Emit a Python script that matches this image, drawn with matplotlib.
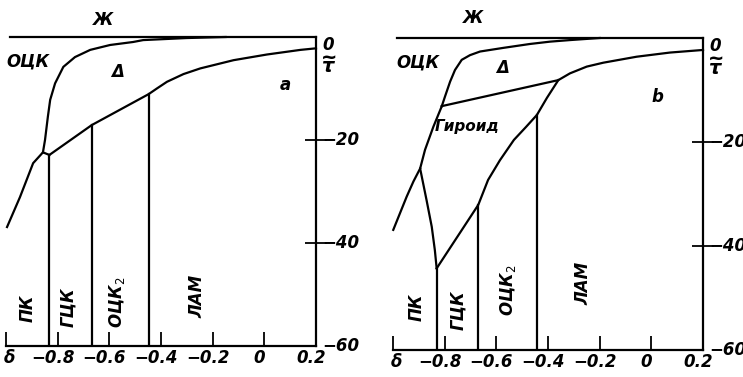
import numpy as np
import matplotlib
matplotlib.use('Agg')
import matplotlib.pyplot as plt
from matplotlib import transforms

# ── panel a : phase boundaries (delta, tau~) ────────────────────────────────
a_bcc_d   = [-0.857, -0.849, -0.838, -0.829, -0.810, -0.778, -0.733, -0.674, -0.597, -0.508, -0.469, -0.30, -0.15]
a_bcc_t   = [-22.4, -20.0, -15.5, -12.2, -9.0, -5.8, -3.9, -2.5, -1.55, -0.97, -0.6, -0.2, 0.0]
a_pc_d    = [-0.996, -0.946, -0.895, -0.857, -0.832]
a_pc_t    = [-36.9, -31.1, -24.5, -22.4, -22.9]
a_lam_d   = [-0.832, -0.668, -0.448, -0.416, -0.377, -0.313, -0.248, -0.119, 0.010, 0.140, 0.2]
a_lam_t   = [-22.9, -17.1, -11.1, -10.0, -8.7, -7.2, -6.1, -4.5, -3.4, -2.5, -2.2]
a_vert_d  = [-0.832, -0.668, -0.448]
a_vert_t  = [-22.9, -17.1, -11.1]

# ── panel b ─────────────────────────────────────────────────────────────────
b_bcc_d   = [-0.811, -0.799, -0.779, -0.760, -0.734, -0.702, -0.663, -0.573, -0.470, -0.392, -0.315, -0.2]
b_bcc_t   = [-13.1, -11.3, -8.4, -6.15, -4.2, -3.3, -2.6, -1.9, -1.15, -0.7, -0.4, 0.0]
b_dlam_d  = [-0.811, -0.360, -0.315, -0.250, -0.186, -0.057, 0.072, 0.2]
b_dlam_t  = [-13.1, -8.1, -6.8, -5.5, -4.75, -3.6, -2.8, -2.3]
b_gyr_d   = [-0.831, -0.670, -0.632, -0.586, -0.532, -0.485, -0.443, -0.404, -0.360]
b_gyr_t   = [-44.3, -32.1, -27.3, -23.5, -19.6, -17.1, -14.8, -11.5, -8.1]
b_pcg_d   = [-0.831, -0.838, -0.850, -0.870, -0.895, -0.876, -0.844, -0.811]
b_pcg_t   = [-44.3, -40.8, -36.3, -31.2, -25.1, -21.5, -17.1, -13.1]
b_pc_d    = [-0.999, -0.973, -0.947, -0.921, -0.895]
b_pc_t    = [-36.9, -33.7, -30.5, -27.6, -25.1]
b_vert_d  = [-0.831, -0.670, -0.443]
b_vert_t  = [-44.3, -32.1, -14.8]

x_ticks   = [-1.0, -0.8, -0.6, -0.4, -0.2, 0.0]
x_labels  = ['−0.8', '−0.6', '−0.4', '−0.2', '0', '0.2']
x_lab_pos = [-0.8, -0.6, -0.4, -0.2, 0.0, 0.2]
y_ticks   = [-20, -40]
y_labels  = ['−20', '−40', '−60']
y_lab_pos = [-20, -40, -60]

FONT = dict(family=['Liberation Sans Narrow', 'DejaVu Sans'], style='italic',
            weight='bold', color='black')
LW = 1.6

fig = plt.figure(figsize=(7.43, 3.77), dpi=100)
ax_a = fig.add_axes([6/743, 1-346/377, 310/743, 309/377])
ax_b = fig.add_axes([393/743, 1-350/377, 310/743, 312/377])


def frame(ax):
    ax.set_xlim(-1.0, 0.2)
    ax.set_ylim(-60, 0)
    ax.patch.set_alpha(0)
    for s in ['top', 'left']:
        ax.spines[s].set_visible(False)
    for s in ['bottom', 'right']:
        ax.spines[s].set_linewidth(LW)
    ax.plot([-0.985, 0.2], [0, 0], color='k', lw=LW, clip_on=False)
    ax.xaxis.set_ticks_position('bottom')
    ax.yaxis.set_ticks_position('right')
    ax.set_xticks(x_ticks)
    ax.set_xticklabels([])
    ax.set_yticks(y_ticks)
    ax.set_yticklabels([])
    ax.tick_params(axis='x', direction='in', length=10, width=1.3)
    ax.tick_params(axis='y', direction='inout', length=16, width=1.3)
    # tick labels as text
    off = transforms.offset_copy(ax.transData, fig=fig, x=-5, y=-12, units='dots')
    for xv, lab in zip(x_lab_pos, x_labels):
        ax.text(xv, -60, lab, transform=off, ha='center', va='center', fontsize=12, **FONT)
    offd = transforms.offset_copy(ax.transData, fig=fig, x=3, y=-12, units='dots')
    ax.text(-1.0, -60, 'δ', transform=offd, ha='center', va='center', fontsize=12, **FONT)
    offy = transforms.offset_copy(ax.transData, fig=fig, x=6, y=0, units='dots')
    for yv, lab in zip(y_lab_pos, y_labels):
        ax.text(0.2, yv, lab, transform=offy, ha='left', va='center', fontsize=12, **FONT)
    off0 = transforms.offset_copy(ax.transData, fig=fig, x=6, y=-8, units='dots')
    ax.text(0.2, 0, '0', transform=off0, ha='left', va='center', fontsize=12, **FONT)
    # tau with a tilde above it
    offtl = transforms.offset_copy(ax.transData, fig=fig, x=13, y=-20, units='dots')
    ax.text(0.2, 0, '~', transform=offtl, ha='center', va='center', fontsize=14, **FONT)
    offt = transforms.offset_copy(ax.transData, fig=fig, x=12, y=-30, units='dots')
    ax.text(0.2, 0, 'τ', transform=offt, ha='center', va='center', fontsize=14, **FONT)


frame(ax_a)
frame(ax_b)

# panel a
ax_a.plot(a_bcc_d, a_bcc_t, 'k-', lw=LW, clip_on=False)
ax_a.plot(a_pc_d, a_pc_t, 'k-', lw=LW, clip_on=False)
ax_a.plot(a_lam_d, a_lam_t, 'k-', lw=LW, clip_on=False)
for xv, yv in zip(a_vert_d, a_vert_t):
    ax_a.plot([xv, xv], [yv, -60], 'k-', lw=LW)

# panel b
ax_b.plot(b_bcc_d, b_bcc_t, 'k-', lw=LW, clip_on=False)
ax_b.plot(b_dlam_d, b_dlam_t, 'k-', lw=LW, clip_on=False)
ax_b.plot(b_gyr_d, b_gyr_t, 'k-', lw=LW, clip_on=False)
ax_b.plot(b_pcg_d, b_pcg_t, 'k-', lw=LW, clip_on=False)
ax_b.plot(b_pc_d, b_pc_t, 'k-', lw=LW, clip_on=False)
for xv, yv in zip(b_vert_d, b_vert_t):
    ax_b.plot([xv, xv], [yv, -60], 'k-', lw=LW)

# region labels (figure pixel positions)
def lab(x, y, s, rot=0, size=12):
    fig.text(x/743, 1-y/377, s, ha='center', va='center', rotation=rot,
             fontsize=size, **FONT)

lab(103, 20, 'Ж')
lab(28, 62, 'ОЦК')
lab(118, 72, 'Δ')
lab(285, 85, 'a')
lab(28, 308, 'ПК', rot=90)
lab(68, 307, 'ГЦК', rot=90)
lab(117, 302, 'ОЦК$_2$', rot=90)
lab(197, 296, 'ЛАМ', rot=90)

lab(473, 18, 'Ж')
lab(418, 63, 'ОЦК')
lab(503, 68, 'Δ')
lab(467, 127, 'Гироид', size=11)
lab(657, 97, 'b')
lab(417, 307, 'ПК', rot=90)
lab(458, 310, 'ГЦК', rot=90)
lab(508, 290, 'ОЦК$_2$', rot=90)
lab(583, 283, 'ЛАМ', rot=90)

fig.savefig('out.png', dpi=100)
